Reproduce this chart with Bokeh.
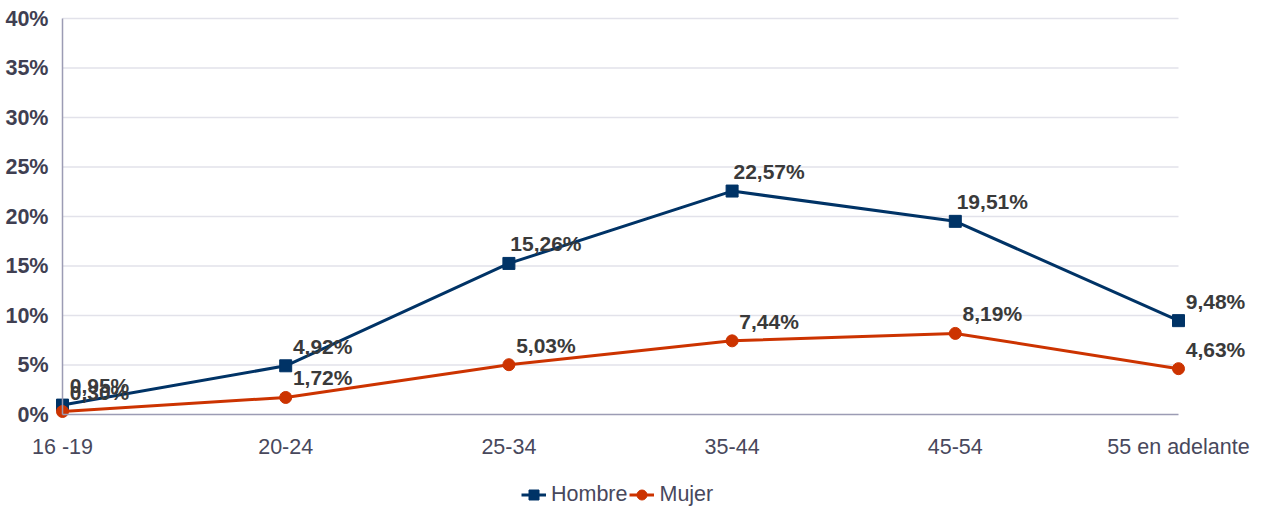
from bokeh.plotting import figure
from bokeh.models import (ColumnDataSource, FixedTicker, PrintfTickFormatter, Range1d,
                          Legend, LegendItem, LabelSet)
from bokeh.core.properties import value
from bokeh.embed import file_html
from bokeh.resources import INLINE

categories = ["16 -19", "20-24", "25-34", "35-44", "45-54", "55 en adelante"]
hombre = [0.95, 4.92, 15.26, 22.57, 19.51, 9.48]
mujer = [0.30, 1.72, 5.03, 7.44, 8.19, 4.63]
y_ticks = [0, 5, 10, 15, 20, 25, 30, 35, 40]

FONT = "Liberation Sans"
NAVY = "#003366"
RED = "#cc3300"
TICK_TXT = "#3f3f52"
XTXT = "#48485c"
LBL = "#3a3a3a"
AXIS = "#9c9cb4"
GRID = "#e2e2ea"

x = list(range(len(categories)))

def fmt(v):
    return f"{v:.2f}".replace(".", ",") + "%"

src_h = ColumnDataSource(dict(x=x, y=hombre, lab=[fmt(v) for v in hombre]))
src_m = ColumnDataSource(dict(x=x, y=mujer, lab=[fmt(v) for v in mujer]))

# layout in pixels (the frame fills the whole figure; axes are drawn inside it)
W, H = 1262, 507
X0, X1 = 62, 1178      # pixel of first / last category
Y0, Y1 = 414, 18       # pixel of 0 % / top tick
ymax = y_ticks[-1]
ppu_x = (X1 - X0) / (len(categories) - 1)
ppu_y = (Y0 - Y1) / ymax

p = figure(width=W, height=H, output_backend="svg", toolbar_location=None,
           x_range=Range1d(-X0 / ppu_x, (W - X0) / ppu_x),
           y_range=Range1d(-(H - Y0) / ppu_y, ymax + Y1 / ppu_y),
           min_border_left=0, min_border_right=0, min_border_top=0, min_border_bottom=0)
p.outline_line_color = None
p.background_fill_color = "white"
p.xgrid.grid_line_color = None
p.ygrid.grid_line_color = None

# horizontal grid lines limited to the data area
n = len(y_ticks) - 1
p.segment(x0=[0] * n, x1=[len(categories) - 1] * n, y0=y_ticks[1:], y1=y_ticks[1:],
          line_color=GRID, line_width=1.5)

lh = p.line("x", "y", source=src_h, line_color=NAVY, line_width=3)
sh = p.scatter("x", "y", source=src_h, marker="square", size=12, fill_color=NAVY, line_color=NAVY)
lm = p.line("x", "y", source=src_m, line_color=RED, line_width=3)
sm = p.scatter("x", "y", source=src_m, marker="circle", size=12, fill_color=RED, line_color=RED)

for src in (src_h, src_m):
    labels = LabelSet(x="x", y="y", text="lab", source=src, x_offset=37, y_offset=12,
                      text_font=value(FONT), text_font_size="21px", text_font_style="bold",
                      text_color=LBL, text_baseline="alphabetic", text_align="center")
    p.add_layout(labels)

p.xaxis.fixed_location = 0
p.xaxis.bounds = (0, len(categories) - 1)
p.xaxis.ticker = FixedTicker(ticks=x)
p.xaxis.major_label_overrides = {i: c for i, c in enumerate(categories)}
p.xaxis.major_label_text_font = FONT
p.xaxis.major_label_text_font_size = "21.5px"
p.xaxis.major_label_text_color = XTXT
p.xaxis.major_label_standoff = 14
p.xaxis.axis_line_color = AXIS
p.xaxis.axis_line_width = 1.5
p.xaxis.major_tick_line_color = None
p.xaxis.minor_tick_line_color = None

p.yaxis.fixed_location = 0
p.yaxis.bounds = (0, ymax)
p.yaxis.ticker = FixedTicker(ticks=y_ticks)
p.yaxis.formatter = PrintfTickFormatter(format="%d%%")
p.yaxis.major_label_text_font = FONT
p.yaxis.major_label_text_font_size = "21.5px"
p.yaxis.major_label_text_font_style = "bold"
p.yaxis.major_label_text_color = TICK_TXT
p.yaxis.major_label_standoff = 8
p.yaxis.axis_line_color = AXIS
p.yaxis.axis_line_width = 1.5
p.yaxis.major_tick_line_color = None
p.yaxis.minor_tick_line_color = None

legend = Legend(items=[LegendItem(label="Hombre", renderers=[lh, sh]),
                       LegendItem(label="Mujer", renderers=[lm, sm])],
                orientation="horizontal", location=(521, 0),
                label_text_font=FONT, label_text_font_size="21.5px", label_text_color=XTXT,
                border_line_color=None, background_fill_alpha=0,
                glyph_width=25, glyph_height=25, spacing=2, label_standoff=5,
                margin=0, padding=0)
p.add_layout(legend, "center")

open("out.html", "w").write(file_html(p, INLINE))
